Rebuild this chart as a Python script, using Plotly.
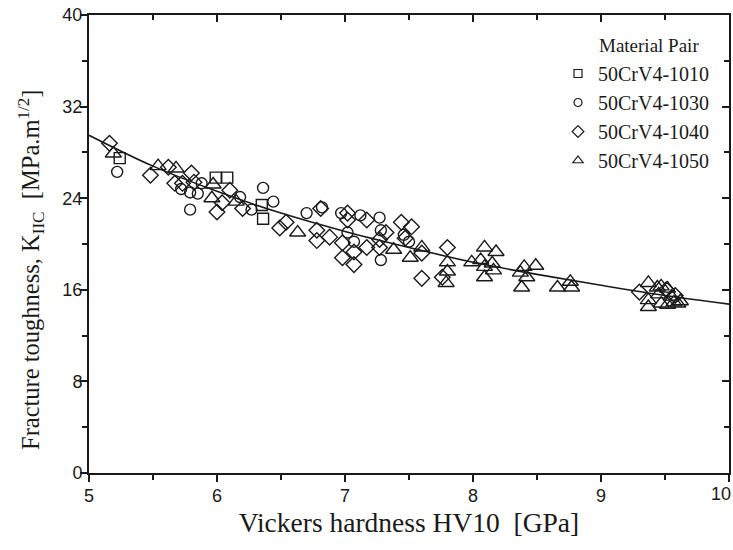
import plotly.graph_objects as go

# ---- data ----
x_1010 = [5.24, 5.99, 6.08, 6.35, 6.36]
y_1010 = [27.5, 25.8, 25.8, 23.4, 22.2]

x_1030 = [5.22, 5.72, 5.79, 5.85, 5.88, 5.79, 6.18, 6.27, 6.36, 6.44, 6.70, 6.82,
          6.97, 7.02, 7.07, 7.12, 7.27, 7.28, 7.28, 7.46, 7.50]
y_1030 = [26.3, 24.8, 24.5, 24.4, 25.3, 23.0, 24.1, 23.0, 24.9, 23.7, 22.7, 23.2,
          22.7, 21.0, 20.2, 22.5, 22.3, 21.2, 18.6, 20.8, 20.2]

x_1040 = [5.16, 5.48, 5.62, 5.67, 5.73, 5.80, 5.82, 6.00, 6.04, 6.10, 6.20, 6.49,
          6.54, 6.78, 6.78, 6.81, 6.88, 6.98, 6.98, 7.02, 7.02, 7.07, 7.07, 7.17,
          7.17, 7.27, 7.27, 7.32, 7.44, 7.47, 7.52, 7.60, 7.60, 7.76, 7.80, 9.30,
          9.51, 9.58]
y_1040 = [28.8, 26.0, 26.7, 25.3, 25.3, 26.2, 25.4, 22.8, 23.6, 24.7, 23.1, 21.4,
          21.9, 20.3, 21.2, 23.1, 20.6, 20.1, 18.8, 22.7, 22.1, 19.3, 18.2, 22.1,
          19.7, 19.7, 20.4, 21.0, 21.9, 20.5, 21.5, 19.2, 17.0, 17.1, 19.7, 15.8,
          16.0, 15.5]

x_1050 = [5.19, 5.54, 5.68, 5.97, 5.96, 6.15, 6.63, 7.38, 7.51, 7.60, 7.80, 7.80,
          7.79, 7.99, 8.06, 8.09, 8.18, 8.15, 8.09, 8.16, 8.09, 8.40, 8.49, 8.37,
          8.42, 8.38, 8.66, 8.76, 8.77, 9.37, 9.44, 9.47, 9.52, 9.37, 9.37, 9.47,
          9.52, 9.57, 9.62, 9.60, 9.45, 9.55]
y_1050 = [27.9, 26.8, 26.6, 25.2, 24.0, 23.7, 21.0, 19.5, 18.8, 19.7, 18.4, 17.6,
          16.6, 18.4, 18.6, 19.7, 19.3, 18.3, 18.0, 17.7, 17.1, 18.0, 18.1, 17.5,
          17.1, 16.2, 16.2, 16.7, 16.2, 16.6, 16.2, 16.3, 16.1, 15.1, 14.5, 14.8,
          14.7, 14.9, 15.0, 14.8, 15.6, 15.4]

fit_x = [5.0, 5.5, 6.0, 6.5, 7.0, 7.5, 8.0, 8.5, 9.0, 9.5, 10.0]
fit_y = [29.5, 26.8, 24.6, 22.7, 21.1, 19.7, 18.4, 17.35, 16.4, 15.5, 14.75]

series_names = ["50CrV4-1010", "50CrV4-1030", "50CrV4-1040", "50CrV4-1050"]
symbols = ["square-open", "circle-open", "diamond-open", "triangle-up-open"]
sizes = [11, 11, 12, 14]
legend_sizes = [8, 8, 9, 9]

x_ticks = [5, 6, 7, 8, 9, 10]
x_tick_labels = ["5", "6", "7", "8", "9", "10"]
y_ticks = [0, 8, 16, 24, 32, 40]

x_title = "Vickers hardness HV10  [GPa]"
y_title = "Fracture toughness, K<sub>IIC</sub>  [MPa.m<sup>1/2</sup>]"
legend_title = "Material Pair"

ink = "#1a1a1a"
serif = "Liberation Serif, Times New Roman, serif"
sans = "Liberation Sans, Arial, sans-serif"

L, R, T, B = 89, 4, 15, 77
W, H = 733, 550
PW, PH = W - L - R, H - T - B


def px_x(p):
    return (p - L) / PW


def px_y(p):
    return (H - B - p) / PH


fig = go.Figure()

for i, (xs, ys) in enumerate([(x_1010, y_1010), (x_1030, y_1030),
                              (x_1040, y_1040), (x_1050, y_1050)]):
    fig.add_trace(go.Scatter(
        x=xs, y=ys, mode="markers", name=series_names[i],
        legendgroup=series_names[i], showlegend=False,
        marker=dict(symbol=symbols[i], size=sizes[i], color=ink,
                    line=dict(width=1.4, color=ink)),
    ))
    # legend entry with the small marker used in the reference legend
    fig.add_trace(go.Scatter(
        x=[None], y=[None], mode="markers", name=series_names[i],
        legendgroup=series_names[i], showlegend=True,
        marker=dict(symbol=symbols[i], size=legend_sizes[i], color=ink,
                    line=dict(width=1.2, color=ink)),
    ))

fig.add_trace(go.Scatter(
    x=fit_x, y=fit_y, mode="lines", line=dict(color=ink, width=1.6, shape="spline"),
    showlegend=False, xaxis="x2", yaxis="y2", hoverinfo="skip",
))

axis_common = dict(showgrid=False, zeroline=False, showline=True,
                   linecolor=ink, linewidth=2, automargin=False)

# the last x tick label sits at the figure edge: keep it inside the picture
shown_x_labels = x_tick_labels[:-1] + [""]

fig.update_layout(
    width=W, height=H,
    margin=dict(l=L, r=R, t=T, b=B),
    plot_bgcolor="white", paper_bgcolor="white",
    xaxis=dict(range=[5, 10], tickvals=x_ticks, ticktext=shown_x_labels,
               ticks="outside", ticklen=7,
               tickwidth=1.5, tickcolor=ink, ticklabelstandoff=-2,
               ticklabeloverflow="allow",
               minor=dict(ticks="outside", ticklen=5, tickwidth=1.5, dtick=0.5,
                          tickcolor=ink),
               tickfont=dict(family=sans, size=18, color=ink),
               title=dict(text=x_title,
                          font=dict(family=serif, size=27.5, color=ink), standoff=8),
               **axis_common),
    yaxis=dict(range=[0, 40], tickvals=y_ticks, ticks="outside", ticklen=7,
               tickwidth=1.5, tickcolor=ink, ticklabelstandoff=-6,
               ticklabeloverflow="allow",
               minor=dict(ticks="outside", ticklen=5, tickwidth=1.5, dtick=4,
                          tickcolor=ink),
               tickfont=dict(family=sans, size=18, color=ink),
               **axis_common),
    xaxis2=dict(range=[5, 10], overlaying="x", side="top", anchor="y",
                tickvals=x_ticks, ticks="inside", ticklen=7, tickwidth=1.5,
                tickcolor=ink, showticklabels=False,
                minor=dict(ticks="inside", ticklen=5, tickwidth=1.5, dtick=0.5,
                           tickcolor=ink),
                **axis_common),
    yaxis2=dict(range=[0, 40], overlaying="y", side="right", anchor="x",
                tickvals=y_ticks, ticks="inside", ticklen=7, tickwidth=1.5,
                tickcolor=ink, showticklabels=False,
                minor=dict(ticks="inside", ticklen=5, tickwidth=1.5, dtick=4,
                           tickcolor=ink),
                **axis_common),
    legend=dict(x=px_x(558), y=px_y(54), xanchor="left", yanchor="top",
                font=dict(family=serif, size=20, color=ink),
                bgcolor="rgba(0,0,0,0)", traceorder="grouped",
                tracegroupgap=0, itemsizing="trace"),
)

# last x tick label, nudged left so it stays inside the picture
fig.add_annotation(text=x_tick_labels[-1], xref="x", yref="paper",
                   x=x_ticks[-1], y=px_y(494), xanchor="right", yanchor="middle",
                   xshift=4, showarrow=False,
                   font=dict(family=sans, size=18, color=ink))

# y-axis title (placed lower than the plot centre, as in the reference)
fig.add_annotation(text=y_title, xref="paper", yref="paper",
                   x=px_x(31), y=px_y(270), xanchor="center", yanchor="middle",
                   textangle=-90, showarrow=False,
                   font=dict(family=serif, size=24.5, color=ink))

fig.add_annotation(text=legend_title, xref="paper", yref="paper",
                   x=px_x(597), y=px_y(45),
                   xanchor="left", yanchor="middle", showarrow=False,
                   font=dict(family=serif, size=19, color=ink))

fig.write_html("out.html", config={"displayModeBar": False},
               post_script="document.body.style.margin='0';")
